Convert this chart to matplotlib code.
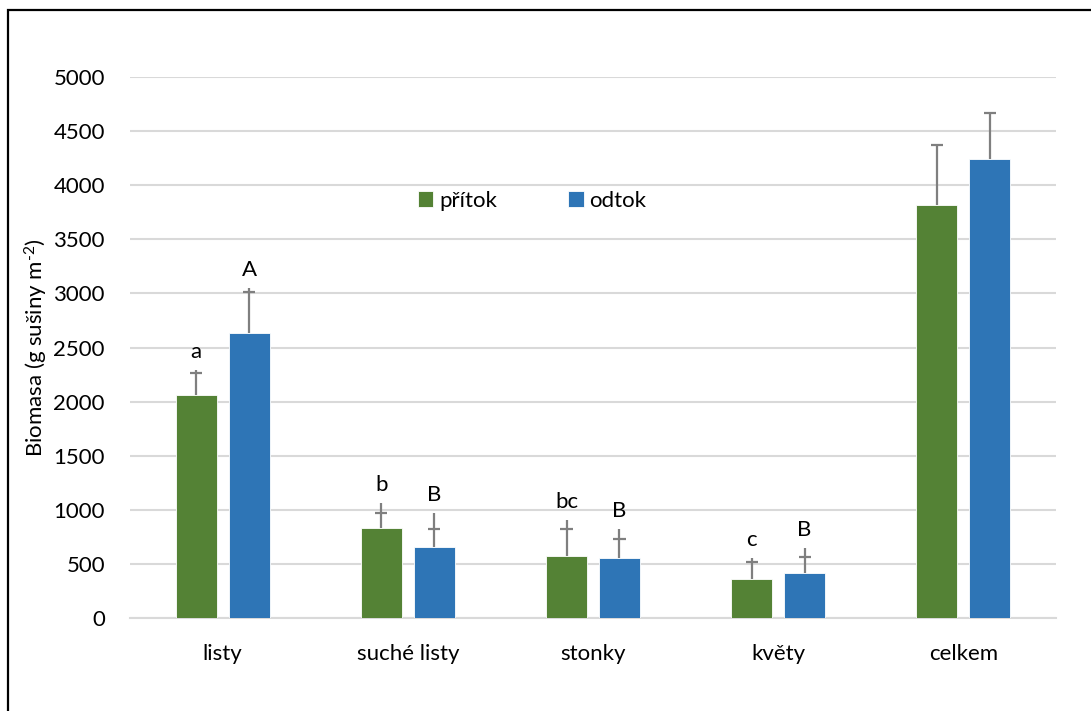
import matplotlib
matplotlib.use("Agg")
import matplotlib.pyplot as plt
import numpy as np
from matplotlib.patches import Rectangle

plt.rcParams["font.family"] = ["Lato", "DejaVu Sans"]
plt.rcParams["mathtext.fontset"] = "custom"
plt.rcParams["mathtext.rm"] = "Lato"
plt.rcParams["mathtext.it"] = "Lato"

categories = ["listy", "suché listy", "stonky", "květy", "celkem"]
series_names = ["přítok", "odtok"]

pritok = [2060, 830, 575, 365, 3820]
odtok = [2635, 660, 550, 420, 4245]

# upper error: where the cap sits and where the whisker ends
pritok_cap = [2265, 975, 825, 515, 4375]
pritok_top = [2295, 1065, 910, 550, 4375]
odtok_cap = [3010, 825, 730, 560, 4665]
odtok_top = [3050, 975, 820, 650, 4665]

pritok_letters = ["a", "b", "bc", "c", ""]
odtok_letters = ["A", "B", "B", "B", ""]

yticks = [0, 500, 1000, 1500, 2000, 2500, 3000, 3500, 4000, 4500, 5000]

GREEN = "#548235"
BLUE = "#2e75b6"
ERR = "#7f7f7f"
GRID = "#d9d9d9"
FS = 16

W, H = 1091, 711
fig = plt.figure(figsize=(W / 100, H / 100), dpi=100)
ax = fig.add_axes([130 / W, (H - 618) / H, (1056 - 130) / W, (618 - 77) / H])

x = np.arange(len(categories))
width = 0.222
offset = 0.143


def draw_series(xpos, vals, caps, tops, letters, color, label):
    ax.bar(xpos, vals, width, color=color, edgecolor="white", linewidth=0.6,
           label=label, zorder=3)
    ax.vlines(xpos, vals, tops, color=ERR, linewidth=1.6, zorder=4, clip_on=False)
    ax.hlines(caps, xpos - 0.033, xpos + 0.033, color=ERR, linewidth=1.6,
              zorder=4, clip_on=False)
    for xi, t, s in zip(xpos, tops, letters):
        if s:
            ax.annotate(s, (xi, t), xytext=(0, 18), textcoords="offset pixels",
                        ha="center", va="center", fontsize=FS, color="black")


draw_series(x - offset, pritok, pritok_cap, pritok_top, pritok_letters, GREEN, series_names[0])
draw_series(x + offset, odtok, odtok_cap, odtok_top, odtok_letters, BLUE, series_names[1])

ax.set_xlim(-0.5, len(categories) - 0.5)
ax.set_ylim(0, 5000)
ax.set_yticks(yticks)
ax.set_xticks(x)
ax.set_xticklabels(categories)
ax.tick_params(axis="both", length=0, labelsize=FS, colors="black")
ax.tick_params(axis="x", pad=19)
ax.tick_params(axis="y", pad=18)

ax.grid(axis="y", color=GRID, linewidth=1.5, zorder=0)
for side in ["top", "right", "left"]:
    ax.spines[side].set_visible(False)
ax.spines["bottom"].set_color(GRID)
ax.spines["bottom"].set_linewidth(1.5)

ax.set_ylabel("Biomasa (g sušiny m$^{‐2}$)", fontsize=FS)
ax.yaxis.set_label_coords(-80 / (1056 - 130), 0.5)

ax.legend(loc="center", bbox_to_anchor=((532 - 130) / (1056 - 130), (618 - 201) / (618 - 77)),
          ncol=2, frameon=False, fontsize=FS, handlelength=0.7, handleheight=0.7,
          handletextpad=0.25, columnspacing=3.2)

# outer frame of the chart area
fig.add_artist(Rectangle((8 / W, -0.2), 1.5, 1.2 - 10 / H, transform=fig.transFigure,
                         fill=False, edgecolor="black", linewidth=1.6))

fig.savefig("out.png", dpi=100)
